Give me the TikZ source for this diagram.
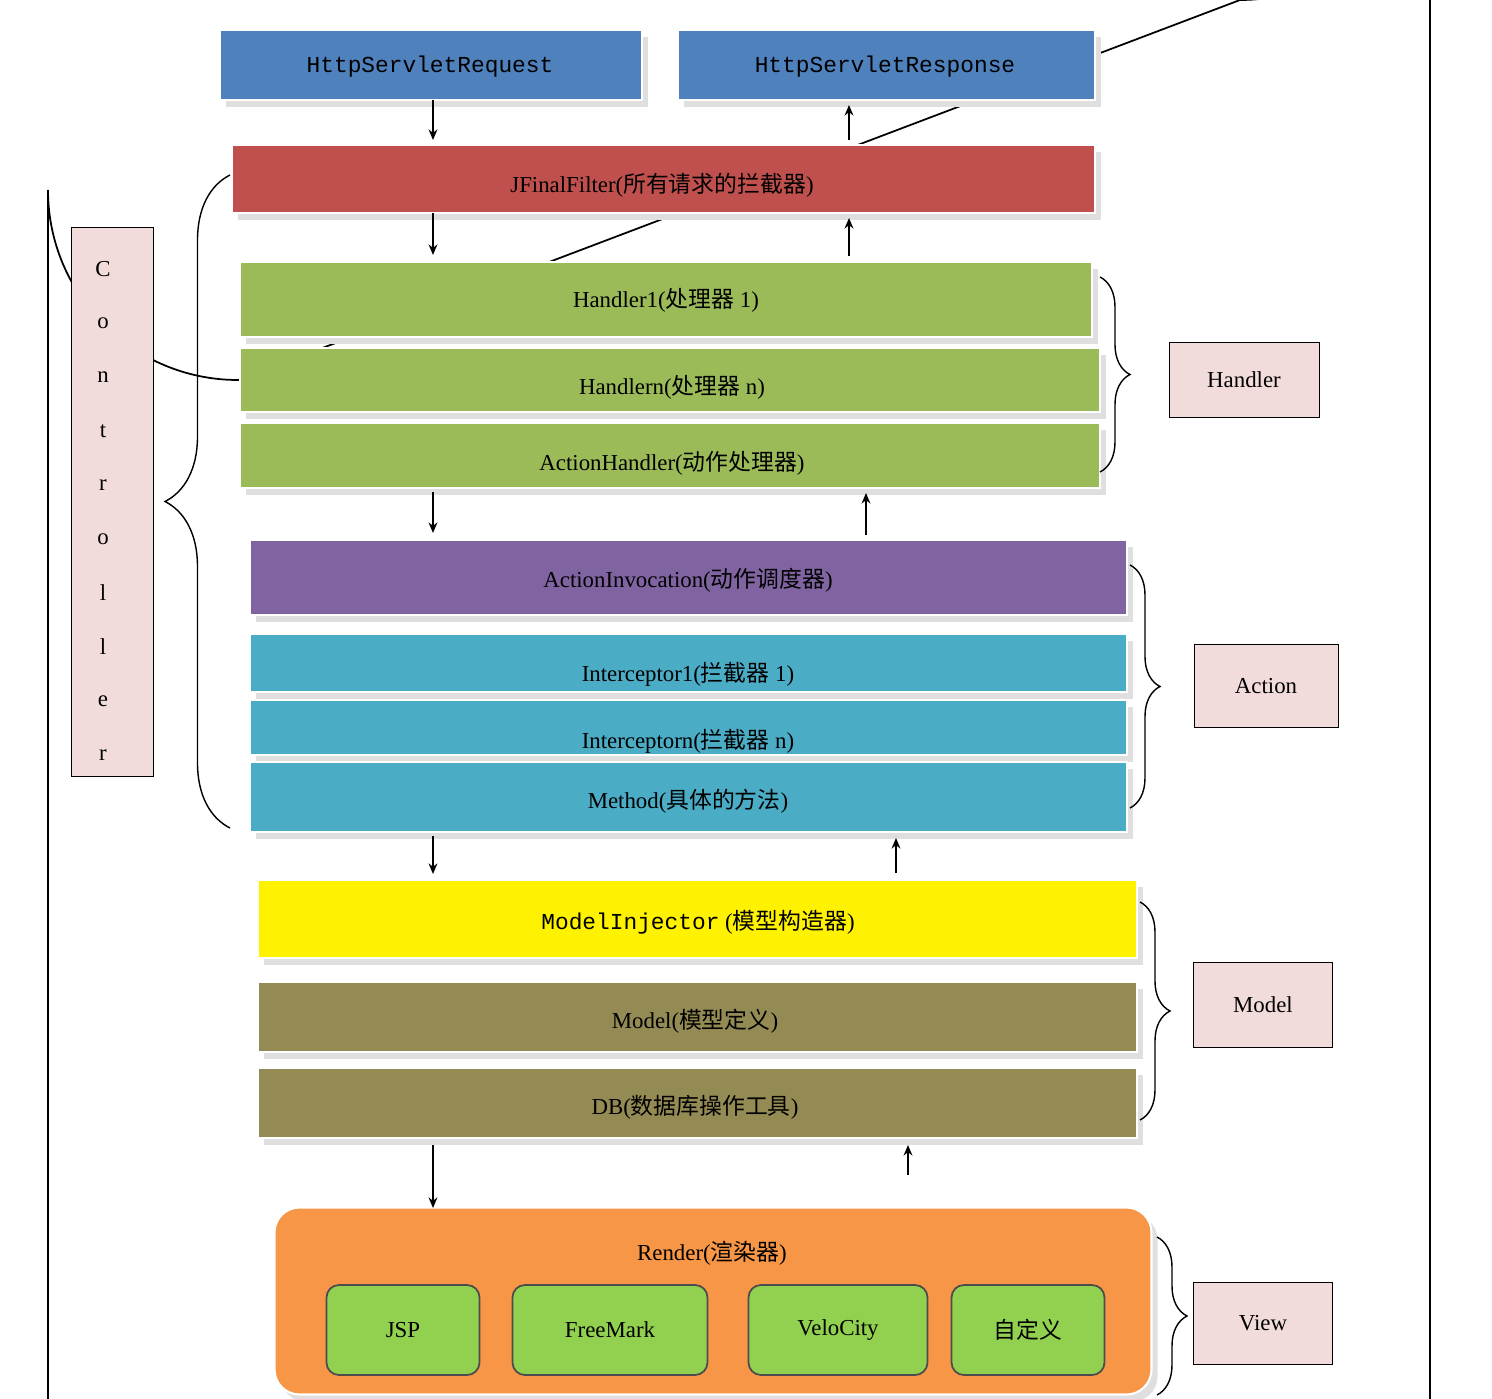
\documentclass[tikz,border=0pt]{standalone}
\usepackage{fontspec}
\setmainfont{Liberation Serif}
\newfontfamily\cjk{Noto Sans CJK SC}
\newfontfamily\mono{Liberation Mono}
\usetikzlibrary{shadows,decorations.pathreplacing,arrows.meta}
\definecolor{cblue}{HTML}{4F81BD}
\definecolor{cred}{HTML}{C0504D}
\definecolor{cgreen}{HTML}{9BBB59}
\definecolor{cpurple}{HTML}{8064A2}
\definecolor{cteal}{HTML}{4BACC6}
\definecolor{colive}{HTML}{948A54}
\definecolor{corange}{HTML}{F79646}
\definecolor{clgreen}{HTML}{92D050}
\definecolor{cpink}{HTML}{F2DCDB}
\begin{document}
\begin{tikzpicture}[x=0.02cm,y=-0.02cm,
  bar/.style={draw=white,line width=1.2pt,drop shadow={shadow xshift=0.12cm,shadow yshift=-0.14cm,fill=gray!25,opacity=1},font=\fontsize{13}{15}\selectfont},
  lbl/.style={draw=black,fill=cpink,font=\fontsize{13}{15}\selectfont},
  arr/.style={-{Stealth[length=6pt,width=5pt]},line width=1.2pt},
  br/.style={decorate,decoration={brace,amplitude=#1},line width=0.8pt}]
\useasboundingbox (0,0) rectangle (1492,1399);
\begin{scope}
\clip (0,0) rectangle (1492,1399);
\draw[line width=1pt] (48,1600) -- (48,190) arc[start angle=180,end angle=90,radius=190] -- (1240,0) arc[start angle=90,end angle=0,radius=190] -- (1430,1600);
\end{scope}
\newcommand{\bx}[6]{\node[bar,fill=#5,minimum width={(#3-#1)*0.02cm},minimum height={(#4-#2)*0.02cm},inner sep=0pt] (#6) at ({(#1+#3)/2},{(#2+#4)/2}) {};}
\bx{220}{30}{642}{100}{cblue}{req}
\bx{678}{30}{1095}{100}{cblue}{resp}
\bx{232}{145}{1095}{213}{cred}{filt}
\bx{240}{262}{1092}{337}{cgreen}{h1}
\bx{240}{348}{1100}{412}{cgreen}{hn}
\bx{240}{423}{1100}{488}{cgreen}{ah}
\bx{250}{540}{1127}{615}{cpurple}{ai}
\bx{250}{634}{1127}{692}{cteal}{i1}
\bx{250}{700}{1127}{755}{cteal}{in}
\bx{250}{762}{1127}{832}{cteal}{meth}
\bx{258}{880}{1137}{958}{yellow}{mi}
\bx{258}{982}{1137}{1052}{colive}{mod}
\bx{258}{1068}{1137}{1138}{colive}{db}
\node[bar,fill=corange,rounded corners=0.5cm,minimum width={877*0.02cm},minimum height={187*0.02cm}] (rend) at (713,1301) {};
\tikzset{tx/.style={font=\fontsize{13}{15}\selectfont}}
\node[tx] at (430,67) {\mono HttpServletRequest};
\node[tx] at (885,67) {\mono HttpServletResponse};
\node[tx] at (662,185) {JFinalFilter({\cjk 所有请求的拦截器})};
\node[tx] at (666,300) {Handler1({\cjk 处理器} 1)};
\node[tx] at (672,387) {Handlern({\cjk 处理器} n)};
\node[tx] at (672,463) {ActionHandler({\cjk 动作处理器})};
\node[tx] at (688,580) {ActionInvocation({\cjk 动作调度器})};
\node[tx] at (688,674) {Interceptor1({\cjk 拦截器} 1)};
\node[tx] at (688,741) {Interceptorn({\cjk 拦截器} n)};
\node[tx] at (688,801) {Method({\cjk 具体的方法})};
\node[tx] at (698,922) {{\mono ModelInjector} ({\cjk 模型构造器})};
\node[tx] at (695,1021) {Model({\cjk 模型定义})};
\node[tx] at (695,1107) {DB({\cjk 数据库操作工具})};
\node[tx] at (712,1253) {Render({\cjk 渲染器})};
\tikzset{sub/.style={draw=black!70,line width=1pt,fill=clgreen,rounded corners=0.25cm,font=\fontsize{13}{15}\selectfont,inner sep=0pt,minimum height={90*0.02cm}}}
\node[sub,minimum width={153*0.02cm}] (jsp) at (403,1330) {JSP};
\node[sub,minimum width={195*0.02cm}] (fm) at (610,1330) {FreeMark};
\node[sub,minimum width={179*0.02cm}] (vc) at (838,1330) {VeloCity};
\node[sub,minimum width={153*0.02cm}] (zdy) at (1028,1330) {\cjk 自定义};
% arrows
\coordinate (d1s) at (433,100); \coordinate (d1e) at (433,140);
\coordinate (d2s) at (433,213); \coordinate (d2e) at (433,255);
\coordinate (d3s) at (433,492); \coordinate (d3e) at (433,533);
\coordinate (d4s) at (433,836); \coordinate (d4e) at (433,874);
\coordinate (d5s) at (433,1145); \coordinate (d5e) at (433,1208);
\foreach \i in {1,...,5} \draw[arr] (d\i s) -- (d\i e);
\coordinate (u1s) at (849,140); \coordinate (u1e) at (849,105);
\coordinate (u2s) at (849,256); \coordinate (u2e) at (849,218);
\coordinate (u3s) at (866,535); \coordinate (u3e) at (866,493);
\coordinate (u4s) at (896,873); \coordinate (u4e) at (896,838);
\coordinate (u5s) at (908,1175); \coordinate (u5e) at (908,1145);
\foreach \i in {1,...,5} \draw[arr] (u\i s) -- (u\i e);
% controller
\node[lbl,minimum width={82*0.02cm},minimum height={549*0.02cm},inner sep=0pt] (ctrl) at (112,502) {};
\foreach \c [count=\k] in {C,o,n,t,r,o,l,l,e,r} \node[tx] at (103,{215+\k*54}) {\c};
\coordinate (lb1) at (230,828); \coordinate (lb2) at (230,175);
\draw[br=1.3cm] (lb1) -- (lb2);
% right braces
\node[lbl,minimum width={150*0.02cm},minimum height={75*0.02cm}] (hl) at (1244,380) {Handler};
\node[lbl,minimum width={144*0.02cm},minimum height={83*0.02cm}] (al) at (1266,686) {Action};
\node[lbl,minimum width={139*0.02cm},minimum height={85*0.02cm}] (ml) at (1263,1005) {Model};
\node[lbl,minimum width={139*0.02cm},minimum height={82*0.02cm}] (vl) at (1263,1323) {View};
\coordinate (hb1) at (1100,277); \coordinate (hb2) at (1100,472);
\coordinate (ab1) at (1130,565); \coordinate (ab2) at (1130,808);
\coordinate (mb1) at (1140,902); \coordinate (mb2) at (1140,1120);
\coordinate (vb1) at (1157,1237); \coordinate (vb2) at (1157,1395);
\draw[br=0.6cm] (hb1) -- (hb2);
\draw[br=0.6cm] (ab1) -- (ab2);
\draw[br=0.6cm] (mb1) -- (mb2);
\draw[br=0.6cm] (vb1) -- (vb2);
\end{tikzpicture}
\end{document}
